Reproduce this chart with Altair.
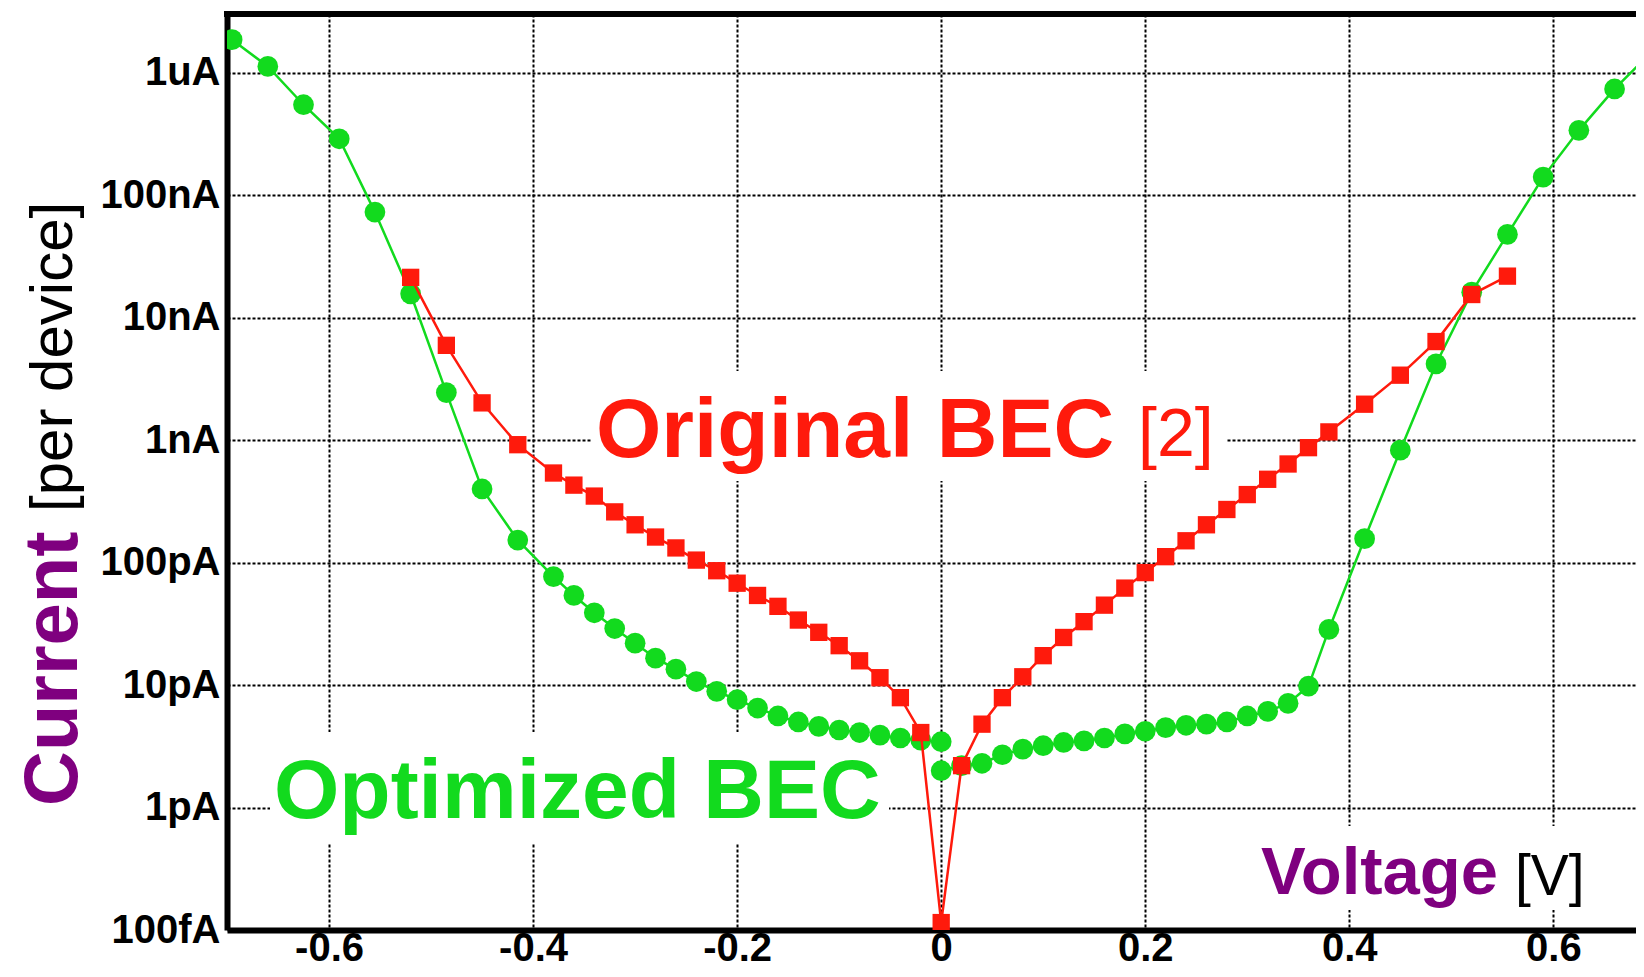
import altair as alt
import pandas as pd

# ---------------- data ----------------
green_neg_v = [-0.695, -0.66, -0.625, -0.59, -0.555, -0.52, -0.485, -0.45, -0.415, -0.38,
               -0.36, -0.34, -0.32, -0.30, -0.28, -0.26, -0.24, -0.22, -0.20, -0.18,
               -0.16, -0.14, -0.12, -0.10, -0.08, -0.06, -0.04, -0.02, 0.0]
green_neg_i = [1.87e-6, 1.13e-6, 5.5e-7, 2.9e-7, 7.3e-8, 1.57e-8, 2.45e-9, 4.0e-10, 1.53e-10, 7.7e-11,
               5.4e-11, 3.9e-11, 2.9e-11, 2.2e-11, 1.66e-11, 1.35e-11, 1.07e-11, 8.9e-12, 7.6e-12, 6.5e-12,
               5.6e-12, 5.0e-12, 4.6e-12, 4.3e-12, 4.1e-12, 3.9e-12, 3.7e-12, 3.55e-12, 3.45e-12]

green_pos_v = [0.0, 0.02, 0.04, 0.06, 0.08, 0.10, 0.12, 0.14, 0.16, 0.18,
               0.20, 0.22, 0.24, 0.26, 0.28, 0.30, 0.32, 0.34, 0.36, 0.38,
               0.415, 0.45, 0.485, 0.52, 0.555, 0.59, 0.625, 0.66, 0.695]
green_pos_i = [2.0e-12, 2.2e-12, 2.3e-12, 2.7e-12, 3.0e-12, 3.2e-12, 3.4e-12, 3.5e-12, 3.7e-12, 4.0e-12,
               4.2e-12, 4.5e-12, 4.7e-12, 4.8e-12, 5.0e-12, 5.6e-12, 6.1e-12, 7.1e-12, 9.8e-12, 2.85e-11,
               1.57e-10, 8.3e-10, 4.2e-9, 1.62e-8, 4.8e-8, 1.41e-7, 3.4e-7, 7.4e-7, 1.45e-6]

red_v = [-0.52, -0.485, -0.45, -0.415, -0.38, -0.36, -0.34, -0.32, -0.30, -0.28,
         -0.26, -0.24, -0.22, -0.20, -0.18, -0.16, -0.14, -0.12, -0.10, -0.08,
         -0.06, -0.04, -0.02, 0.0, 0.02, 0.04, 0.06, 0.08, 0.10, 0.12,
         0.14, 0.16, 0.18, 0.20, 0.22, 0.24, 0.26, 0.28, 0.30, 0.32,
         0.34, 0.36, 0.38, 0.415, 0.45, 0.485, 0.52, 0.555]
red_i = [2.14e-8, 5.96e-9, 2.02e-9, 9.2e-10, 5.4e-10, 4.3e-10, 3.5e-10, 2.6e-10, 2.04e-10, 1.62e-10,
         1.32e-10, 1.05e-10, 8.6e-11, 6.8e-11, 5.4e-11, 4.4e-11, 3.4e-11, 2.7e-11, 2.1e-11, 1.58e-11,
         1.15e-11, 7.9e-12, 4.1e-12, 1.15e-13, 2.2e-12, 4.8e-12, 7.9e-12, 1.17e-11, 1.74e-11, 2.45e-11,
         3.3e-11, 4.5e-11, 6.2e-11, 8.3e-11, 1.12e-10, 1.51e-10, 2.04e-10, 2.72e-10, 3.6e-10, 4.8e-10,
         6.4e-10, 8.7e-10, 1.17e-9, 1.97e-9, 3.4e-9, 6.4e-9, 1.55e-8, 2.19e-8]

x_ticks = [-0.6, -0.4, -0.2, 0.0, 0.2, 0.4, 0.6]
x_tick_labels = ["-0.6", "-0.4", "-0.2", "0", "0.2", "0.4", "0.6"]
y_ticks = [1e-13, 1e-12, 1e-11, 1e-10, 1e-9, 1e-8, 1e-7, 1e-6]
y_tick_labels = ["100fA", "1pA", "10pA", "100pA", "1nA", "10nA", "100nA", "1uA"]

# ---------------- styling ----------------
GREEN = "#12DA1E"
RED = "#FF1A0C"
PURPLE = "#7F007F"
FONT = "Liberation Sans"
W, H = 1409, 916

green = pd.DataFrame({
    "v": green_neg_v + green_pos_v,
    "i": green_neg_i + green_pos_i,
    "sweep": ["neg"] * len(green_neg_v) + ["pos"] * len(green_pos_v),
    "order": list(range(len(green_neg_v) + len(green_pos_v))),
})
red = pd.DataFrame({"v": red_v, "i": red_i, "order": list(range(len(red_v)))})

x_expr = "[" + ",".join(f"'{s}'" for s in x_tick_labels) + "][round(datum.value*5)+3]"
y_expr = "[" + ",".join(f"'{s}'" for s in y_tick_labels) + "][round(log(datum.value)/LN10)+13]"

x_scale = alt.Scale(domain=[-0.7, 0.681], nice=False, zero=False)
y_scale = alt.Scale(type="log", domain=[1e-13, 3.03e-6], nice=False)

common_axis = dict(
    grid=True, gridColor="black", gridDash=[3, 2], gridWidth=2, gridOpacity=1,
    domainColor="black", domainWidth=6, ticks=False, title=None,
    labelFont=FONT, labelFontSize=40, labelFontWeight="bold", labelColor="black",
    labelFlush=False, labelOverlap=False,
)
x_axis = alt.Axis(values=x_ticks, labelExpr=x_expr, labelPadding=30,
                  labelBaseline="alphabetic", **common_axis)
y_axis = alt.Axis(values=y_ticks, labelExpr=y_expr, labelPadding=7,
                  labelAlign="right", labelBaseline="middle", **common_axis)

X = alt.X("v:Q", scale=x_scale, axis=x_axis)
Y = alt.Y("i:Q", scale=y_scale, axis=y_axis)

green_line = alt.Chart(green).mark_line(color=GREEN, strokeWidth=2.5, clip=True).encode(
    x=X, y=Y, detail="sweep:N", order="order:Q")
green_pts = alt.Chart(green).mark_point(shape="circle", filled=True, size=430, opacity=1,
                                        color=GREEN, clip=True).encode(x=X, y=Y)
red_line = alt.Chart(red).mark_line(color=RED, strokeWidth=2.5, clip=True).encode(
    x=X, y=Y, order="order:Q")
red_pts = alt.Chart(red).mark_point(shape="square", filled=True, size=300, opacity=1,
                                    color=RED, clip=True).encode(x=X, y=Y)

one = alt.Data(values=[{}])


def box(x0, x1, y0, y1):
    return alt.Chart(one).mark_rect(color="white").encode(
        x=alt.value(x0), x2=alt.value(x1), y=alt.value(y0), y2=alt.value(y1))


def label(text, x, y, size, color, weight="normal", angle=0):
    kw = dict(text=text, align="left", baseline="alphabetic", font=FONT,
              fontSize=size, fontWeight=weight, color=color)
    if angle:
        kw["angle"] = angle
    return alt.Chart(one).mark_text(**kw).encode(x=alt.value(x), y=alt.value(y))


boxes = [box(365, 1000, 357, 467), box(43, 662, 718, 829), box(1018, 1373, 812, 896)]

top_rule = alt.Chart(one).mark_rule(color="black", strokeWidth=6).encode(
    x=alt.value(-3), x2=alt.value(W), y=alt.value(0))

texts = [
    label("Original BEC", 369, 443, 84, RED, "bold"),
    label("[2]", 911, 442, 68, RED),
    label("Optimized BEC", 47, 804, 84, GREEN, "bold"),
    label("Voltage", 1034, 880, 67, PURPLE, "bold"),
    label("[V]", 1288, 881, 57, "black"),
    label("Current", -150, 792, 76, PURPLE, "bold", angle=270),
    label("[per device]", -155, 498, 60, "black", angle=270),
]

chart = alt.layer(
    green_line, *boxes, top_rule, *texts, green_pts, red_line, red_pts
).properties(
    width=W, height=H,
    autosize=alt.AutoSizeParams(type="none"),
    padding={"left": 219, "top": 6, "right": 0, "bottom": 39},
    background="white",
).configure_view(stroke=None)

chart.save("out.html", embed_options={"renderer": "svg", "actions": False})
